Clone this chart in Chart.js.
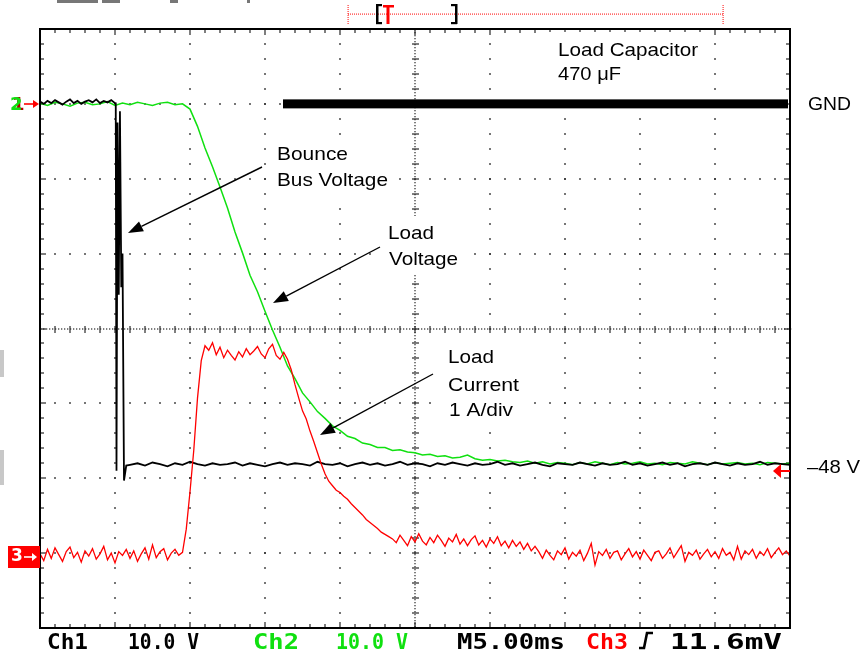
<!DOCTYPE html>
<html><head><meta charset="utf-8">
<script src="https://cdn.jsdelivr.net/npm/chart.js@4.4.1/dist/chart.umd.min.js"></script>
<style>html,body{margin:0;padding:0;background:#fff;}canvas{display:block;}</style>
</head><body>
<canvas id="c" width="865" height="656"></canvas>
<script>
// ---------------- DATA ----------------
// time base: 5 ms/div, 10 divisions -> 0..50 ms
// Ch1 (black) Bus voltage, 10 V/div, volts
const ch1PreStepMs = 0.25;
const ch1PreVolts = [0.3,0.0,0.4,0.1,0.5,0.2,-0.1,0.3,0.6,0.1,0.4,0.0,0.3,0.5,0.2,0.6,0.1,0.4,0.2,0.5,0.1];
const ch1BounceMs = [5.05,5.10,5.17,5.25,5.33,5.42,5.50,5.60,5.75];
const ch1BounceVolts = [0.2,-49.0,-2.5,-25.5,-1.0,-24.5,-20.0,-50.3,-48.3];
const ch1PostStartMs = 6.0;
const ch1PostStepMs = 0.5;
const ch1PostVolts = [
-48.2,-48.0,-48.3,-47.9,-48.1,-48.4,-48.0,-48.2,-47.8,-48.1,
-48.3,-48.0,-48.2,-48.1,-47.9,-48.3,-48.0,-48.2,-48.4,-48.1,
-47.9,-48.2,-48.0,-48.1,-48.3,-47.8,-48.1,-48.2,-48.0,-48.4,
-48.1,-47.9,-48.2,-48.0,-48.3,-48.1,-47.8,-48.2,-48.0,-48.1,
-48.4,-48.0,-48.2,-47.9,-48.1,-48.3,-48.0,-48.2,-48.1,-47.8,
-48.2,-48.0,-48.3,-48.1,-47.9,-48.2,-48.4,-48.0,-48.1,-48.2,
-47.9,-48.1,-48.3,-48.0,-48.2,-48.1,-47.8,-48.2,-48.0,-48.3,
-48.1,-47.9,-48.2,-48.0,-48.4,-48.1,-48.0,-48.2,-47.9,-48.1,
-48.3,-48.0,-48.2,-48.1,-47.8,-48.2,-48.0,-48.1,-48.2];

// Ch2 (green) Load voltage, 10 V/div, volts, every 0.5 ms
const ch2StepMs = 0.5;
const ch2Volts = [
0.1,-0.2,0.2,0.0,-0.3,0.1,0.2,-0.1,0.0,0.3,-0.2,0.1,-0.1,0.2,0.0,-0.2,0.1,0.2,-0.1,0.0,
-0.7,-3.0,-5.9,-8.4,-11.1,-13.9,-17.1,-19.9,-22.9,-25.1,-27.7,-30.2,-32.5,-35.0,-36.7,-38.6,
-39.8,-41.1,-42.0,-43.0,-43.6,-44.4,-44.7,-45.3,-45.5,-45.9,-45.9,-46.3,-46.2,-46.5,-46.6,
-46.9,-46.8,-47.1,-47.0,-47.3,-47.2,-46.9,-47.4,-47.6,-47.5,-47.7,-47.6,-47.8,-47.9,-47.7,
-48.0,-47.8,-48.1,-47.9,-48.0,-48.2,
-47.9,-48.1,-47.8,-48.0,-48.2,-47.9,-48.1,-48.0,-47.8,-48.1,-48.0,-48.2,-47.9,-48.0,-48.1,
-47.8,-48.0,-48.2,-47.9,-48.1,-48.0,-47.9,-48.1,-48.0,-48.2,-47.9,-48.0,-48.1,-48.0];

// Ch3 (red) Load current, 1 A/div, amps, every 0.25 ms
const ch3StepMs = 0.25;
const ch3Amps = [
0.02,-0.07,0.08,-0.04,0.10,0.01,-0.08,0.05,0.11,-0.03,0.04,-0.09,0.06,-0.01,0.09,-0.05,0.02,0.12,-0.06,0.03,
-0.10,0.05,0.00,0.08,-0.04,0.06,-0.08,0.02,0.10,-0.05,0.14,-0.03,0.05,0.09,-0.06,0.03,0.08,0.00,0.04,
0.35,0.85,1.4,2.1,2.6,2.8,
2.74,2.84,2.68,2.78,2.64,2.74,2.67,2.61,2.72,2.65,2.76,2.68,2.73,2.79,2.69,2.64,2.76,2.82,2.67,2.62,2.71,
2.62,2.48,2.28,2.10,1.93,1.82,1.66,1.52,1.37,1.22,1.09,0.99,0.93,0.87,0.84,0.79,0.75,0.69,0.64,0.59,
0.54,0.48,0.44,0.40,0.36,0.31,0.28,0.25,0.22,
0.17,0.27,0.20,0.13,0.25,0.18,0.29,0.19,0.14,0.24,0.17,0.27,0.20,0.12,0.23,0.18,0.28,0.15,0.22,0.13,
0.21,0.26,0.14,0.20,0.11,0.22,0.16,0.25,0.13,0.19,0.10,0.20,0.12,0.18,0.08,0.16,0.06,0.12,
0.05,-0.04,0.07,0.00,-0.06,0.06,0.01,0.10,-0.05,0.04,-0.01,0.07,-0.07,0.03,0.16,-0.13,0.05,0.00,0.08,-0.04,
0.04,0.06,-0.06,0.02,0.09,-0.02,0.05,-0.05,0.07,0.00,-0.07,0.04,0.06,-0.04,0.02,0.10,-0.03,0.05,0.13,-0.08,
0.04,0.00,0.07,-0.05,0.02,0.08,-0.02,0.05,-0.04,0.09,0.00,0.04,-0.06,0.12,-0.05,0.06,0.01,0.08,-0.04,0.05,
0.00,0.09,-0.03,0.04,0.10,0.01,0.06,-0.01];

// readout / labels
const statusTexts = [
  {t:'Ch1', c:'#000'}, {t:'10.0 V', c:'#000'}, {t:'Ch2', c:'#10e010'}, {t:'10.0 V', c:'#10e010'},
  {t:'M5.00ms', c:'#000'}, {t:'Ch3', c:'#ff0000'}, {t:'11.6mV', c:'#000'}
];

// ---------------- BUILD ----------------
const ch1Data = ch1PreVolts.map((v,i)=>({x:i*ch1PreStepMs, y:v}))
  .concat(ch1BounceMs.map((t,i)=>({x:t, y:ch1BounceVolts[i]})))
  .concat(ch1PostVolts.map((v,i)=>({x:ch1PostStartMs+i*ch1PostStepMs, y:v})));
const ch2Data = ch2Volts.map((v,i)=>({x:i*ch2StepMs, y:v}));
const ch3Data = ch3Amps.map((v,i)=>({x:i*ch3StepMs, y:v}));

function fitText(ctx, str, x, base, width, font, color){
  ctx.save(); ctx.font = font; ctx.fillStyle = color; ctx.textBaseline = 'alphabetic'; ctx.textAlign='left';
  const w = ctx.measureText(str).width;
  ctx.translate(x, base); ctx.scale(width / w, 1); ctx.fillText(str, 0, 0); ctx.restore();
}
function arrow(ctx, x1, y1, x2, y2){
  const ang = Math.atan2(y2-y1, x2-x1), L = 15, W = 5.5;
  const bx = x2 - L*Math.cos(ang), by = y2 - L*Math.sin(ang);
  ctx.save(); ctx.strokeStyle = '#000'; ctx.fillStyle = '#000'; ctx.lineWidth = 1.4;
  ctx.beginPath(); ctx.moveTo(x1,y1); ctx.lineTo(bx,by); ctx.stroke();
  ctx.beginPath(); ctx.moveTo(x2,y2);
  ctx.lineTo(bx + W*Math.sin(ang), by - W*Math.cos(ang));
  ctx.lineTo(bx - W*Math.sin(ang), by + W*Math.cos(ang));
  ctx.closePath(); ctx.fill(); ctx.restore();
}

const LBL = '19px "Liberation Sans", Arial, sans-serif';
const labelBoxes = [[548,32,160,60],[270,138,125,57],[382,216,84,58],[440,342,88,83]];

const scope = {
  id: 'scope',
  beforeDatasetsDraw(chart){
    const {ctx, chartArea:a} = chart, xs = chart.scales.x, ys = chart.scales.yV;
    ctx.save();
    ctx.fillStyle = '#2a2a2a';
    const dot = (px,py)=>ctx.fillRect(Math.round(px)-0.8, Math.round(py)-0.8, 1.6, 1.6);
    for (let t=5; t<50; t+=5){ if (t===25) continue; const px = xs.getPixelForValue(t);
      for (let v=-68; v<10; v+=2) dot(px, ys.getPixelForValue(v)); }
    for (let v=-60; v<10; v+=10){ if (v===-30) continue; const py = ys.getPixelForValue(v);
      for (let t=1; t<50; t+=1) dot(xs.getPixelForValue(t), py); }
    const cx = Math.round(xs.getPixelForValue(25)), cy = Math.round(ys.getPixelForValue(-30));
    for (let py=a.top; py<=a.bottom; py+=3) ctx.fillRect(cx-0.6, py, 1.2, 1.3);
    for (let px=a.left; px<=a.right; px+=3) ctx.fillRect(px, cy-0.6, 1.3, 1.2);
    for (let v=-68; v<10; v+=2){ const py = Math.round(ys.getPixelForValue(v)); ctx.fillRect(cx-3, py-0.6, 7, 1.2); }
    for (let t=1; t<50; t+=1){ const px = Math.round(xs.getPixelForValue(t)); ctx.fillRect(px-0.6, cy-3, 1.2, 7); }
    for (let t=1; t<50; t+=1){ const px = Math.round(xs.getPixelForValue(t));
      const L = (t%5===0)?6:4;
      ctx.fillRect(px-0.6, a.top, 1.2, L); ctx.fillRect(px-0.6, a.bottom-L, 1.2, L); }
    for (let v=-68; v<10; v+=2){ const py = Math.round(ys.getPixelForValue(v));
      const L = (v%10===0)?6:4;
      ctx.fillRect(a.left, py-0.6, L, 1.2); ctx.fillRect(a.right-L, py-0.6, L, 1.2); }
    ctx.fillStyle = '#fff';
    labelBoxes.forEach(b=>ctx.fillRect(b[0],b[1],b[2],b[3]));
    ctx.restore();
  },
  afterDatasetsDraw(chart){
    const {ctx, chartArea:a} = chart, xs = chart.scales.x, ys = chart.scales.yV, ya = chart.scales.yA;
    ctx.save();
    // border
    ctx.strokeStyle = '#000'; ctx.lineWidth = 2;
    ctx.strokeRect(a.left, a.top, a.right-a.left, a.bottom-a.top);
    // GND bar
    const gy = ys.getPixelForValue(0);
    ctx.fillStyle = '#000';
    ctx.fillRect(xs.getPixelForValue(16.2), gy-4.5, a.right-2-xs.getPixelForValue(16.2), 9);
    // labels
    fitText(ctx,'Load Capacitor',558,56,140,LBL,'#000');
    fitText(ctx,'470 \u03BCF',558,80,63,LBL,'#000');
    fitText(ctx,'GND',808,110,43,LBL,'#000');
    fitText(ctx,'\u201348 V',807,473,53,LBL,'#000');
    fitText(ctx,'Bounce',277,160,71,LBL,'#000');
    fitText(ctx,'Bus Voltage',277,186,111,LBL,'#000');
    fitText(ctx,'Load',388,239,46,LBL,'#000');
    fitText(ctx,'Voltage',389,265,69,LBL,'#000');
    fitText(ctx,'Load',448,363,46,LBL,'#000');
    fitText(ctx,'Current',448,391,71,LBL,'#000');
    fitText(ctx,'1 A/div',449,416,64,LBL,'#000');
    arrow(ctx,262,167,128,233);
    arrow(ctx,380,247,273,303);
    arrow(ctx,433,374,320,435);
    // left ch markers
    const refY = Math.round(gy);
    ctx.font = 'bold 18px "DejaVu Sans", sans-serif'; ctx.textBaseline='middle';
    ctx.fillStyle = '#b00000'; ctx.fillText('1', 12, refY+1);
    ctx.fillStyle = '#10e010'; ctx.fillText('2', 10, refY+1);
    ctx.strokeStyle = '#ff0000'; ctx.fillStyle = '#ff0000'; ctx.lineWidth = 1.6;
    ctx.beginPath(); ctx.moveTo(24, refY); ctx.lineTo(34, refY); ctx.stroke();
    ctx.beginPath(); ctx.moveTo(39, refY); ctx.lineTo(33, refY-4); ctx.lineTo(33, refY+4); ctx.closePath(); ctx.fill();
    const r3 = Math.round(ya.getPixelForValue(0));
    ctx.fillStyle = '#ff0000'; ctx.fillRect(8, r3-9, 32, 22);
    ctx.fillStyle = '#fff'; ctx.font = 'bold 17px "DejaVu Sans", sans-serif'; ctx.textBaseline='middle';
    ctx.fillText('3', 11, r3+2);
    ctx.strokeStyle = '#fff'; ctx.lineWidth = 1.6;
    ctx.beginPath(); ctx.moveTo(24, r3+2); ctx.lineTo(33, r3+2); ctx.stroke();
    ctx.beginPath(); ctx.moveTo(37, r3+2); ctx.lineTo(32, r3-2); ctx.lineTo(32, r3+6); ctx.closePath(); ctx.fill();
    // right -48 V arrow
    const ry = Math.round(ys.getPixelForValue(-49));
    ctx.fillStyle = '#ff0000';
    ctx.beginPath(); ctx.moveTo(773, ry); ctx.lineTo(781, ry-7); ctx.lineTo(781, ry+7); ctx.closePath(); ctx.fill();
    ctx.fillRect(780, ry-1, 10, 2);
    // top record indicator
    ctx.fillStyle = '#ff3030';
    for (let x=348; x<=723; x+=2) ctx.fillRect(x, 13.5, 1, 1.2);
    for (let y=5; y<=24; y+=2){ ctx.fillRect(347.5, y, 1.2, 1); ctx.fillRect(722.5, y, 1.2, 1); }
    ctx.fillStyle = '#000';
    ctx.fillRect(376, 4, 2.5, 20); ctx.fillRect(376, 4, 6, 2.2); ctx.fillRect(376, 22, 6, 2.2);
    ctx.fillRect(455, 4, 2.5, 20); ctx.fillRect(451, 4, 6, 2.2); ctx.fillRect(451, 22, 6, 2.2);
    ctx.fillStyle = '#ff0000';
    ctx.fillRect(383, 5, 11, 2.5); ctx.fillRect(386.5, 5, 3, 19);
    // header fragments & left edge marks
    ctx.fillStyle = '#777';
    ctx.fillRect(57,0,41,3); ctx.fillRect(102,0,18,3); ctx.fillRect(170,0,8,3); ctx.fillRect(247,0,3,3);
    ctx.fillStyle = '#c8c8c8';
    ctx.fillRect(0,350,4,27); ctx.fillRect(0,450,4,35);
    // status line
    const SF = 'bold 21px "DejaVu Sans Mono", monospace';
    const pos = [[47,41],[128,71],[253,46],[336,72],[457,108],[586,42],[670,112]];
    statusTexts.forEach((s,i)=>fitText(ctx, s.t, pos[i][0], 649, pos[i][1], SF, s.c));
    ctx.strokeStyle = '#000'; ctx.lineWidth = 2.6;
    ctx.beginPath(); ctx.moveTo(639,648); ctx.lineTo(644,648); ctx.lineTo(647,633); ctx.lineTo(653,633); ctx.stroke();
    ctx.restore();
  }
};

new Chart(document.getElementById('c'), {
  type: 'line',
  data: { datasets: [
    { label:'Ch3 Load Current', data: ch3Data, yAxisID:'yA', borderColor:'#ff0000', borderWidth:1.3, pointRadius:0, tension:0, order:1 },
    { label:'Ch1 Bus Voltage', data: ch1Data, yAxisID:'yV', borderColor:'#000000', borderWidth:1.8, pointRadius:0, tension:0, order:2 },
    { label:'Ch2 Load Voltage', data: ch2Data, yAxisID:'yV', borderColor:'#10e010', borderWidth:1.5, pointRadius:0, tension:0, order:3 }
  ]},
  options: {
    responsive:false, animation:false, devicePixelRatio:1, events:[],
    layout:{ padding:{ left:40, right:75, top:29, bottom:28 } },
    plugins:{ legend:{display:false}, tooltip:{enabled:false} },
    scales:{
      x:{ type:'linear', min:0, max:50, display:false },
      yV:{ type:'linear', min:-70, max:10, display:false },
      yA:{ type:'linear', min:-0.97, max:7.03, display:false }
    }
  },
  plugins:[scope]
});
</script>
</body></html>
